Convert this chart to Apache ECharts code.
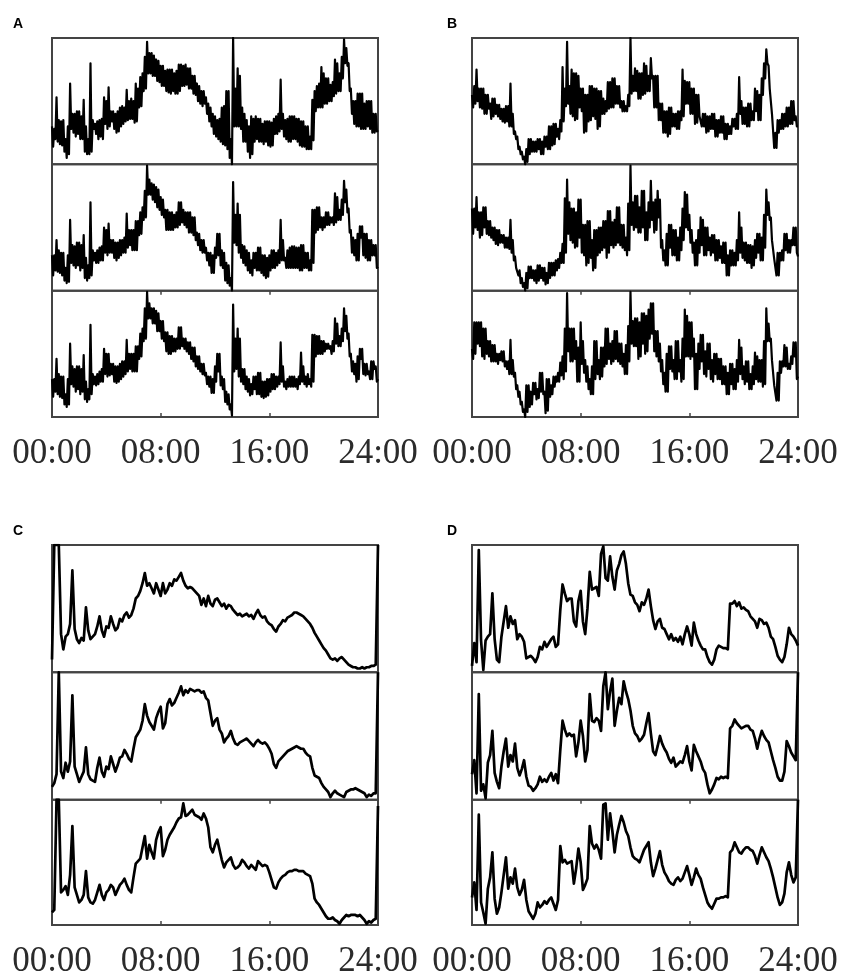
<!DOCTYPE html>
<html><head><meta charset="utf-8">
<script src="https://cdn.jsdelivr.net/npm/echarts@6/dist/echarts.min.js"></script>
<style>html,body{margin:0;padding:0;background:#fff}#c{width:843px;height:979px}</style>
</head><body><div id="c"></div>
<script>
const tickLabels = ['00:00','08:00','16:00','24:00'];
const panelLetters = ['A','B','C','D'];

// Panels A and B: 5-minute samples (289 points, 00:00 .. 24:00), values as % of each subplot's height
const A1=[30,14,28,20,53,18,35,16,34,15,35,10,20,5,30,8,64,28,40,25,
40,22,42,24,42,20,38,20,51,10,30,8,20,8,80,10,35,28,32,24,
34,20,35,22,36,20,53,32,50,28,61,30,42,34,42,28,40,25,42,26,
45,30,46,32,45,34,59,35,50,36,52,36,50,33,64,34,60,45,69,46,
72,58,85,60,97,72,88,72,88,70,86,70,83,66,82,65,78,62,78,62,
74,58,75,57,75,56,75,58,72,56,74,56,79,58,79,62,78,62,79,63,
76,60,76,60,70,56,70,55,64,50,62,48,58,46,58,48,53,40,48,34,
45,30,40,24,38,22,35,20,36,18,45,16,46,15,58,12,58,5,20,0,
100,30,60,30,76,30,70,28,45,18,40,18,35,10,30,5,38,8,36,18,
38,20,36,18,36,18,32,16,34,18,34,15,34,14,33,15,36,24,38,24,
40,26,67,28,40,22,35,20,36,18,38,18,38,20,38,20,36,18,36,15,
34,14,34,14,30,12,30,12,22,12,51,19,58,42,62,45,64,45,77,45,
72,48,68,48,68,50,63,50,65,54,83,56,80,58,72,58,85,68,99,80,
92,78,80,58,60,40,50,32,50,30,56,30,56,28,56,28,48,28,50,30,
50,28,50,25,40,25,40,26,27];
const A2=[28,12,28,16,40,15,32,14,30,12,30,8,18,6,28,7,56,22,36,20,
35,18,38,20,38,16,36,18,44,10,26,8,20,10,70,12,32,24,30,22,
32,22,34,24,35,24,50,30,48,28,53,30,40,30,40,26,38,24,38,26,
40,28,40,30,42,30,61,34,48,36,48,32,48,32,55,32,55,44,62,45,
66,56,79,58,99,76,88,76,85,72,84,70,82,66,80,64,74,60,72,58,
64,48,64,48,62,48,62,48,60,50,62,50,70,52,70,54,64,52,62,50,
62,46,62,46,58,44,58,40,46,36,45,32,40,30,40,30,34,24,30,20,
30,14,28,14,34,26,45,28,45,20,32,18,30,8,22,6,20,4,10,0,
86,38,60,36,69,30,60,26,36,22,35,20,32,16,30,14,24,12,30,18,
30,16,34,16,34,14,28,12,28,10,26,11,28,16,32,18,32,18,30,20,
32,22,56,24,40,24,26,18,32,18,34,18,35,18,35,18,34,18,34,16,
36,16,36,18,30,18,30,16,24,16,64,22,64,46,66,48,66,50,58,48,
58,50,62,52,62,52,58,54,58,52,77,54,74,56,64,56,72,60,87,70,
80,62,65,46,48,30,42,28,40,24,45,24,51,42,51,28,45,26,45,24,
40,24,40,28,36,28,36,18,19];
const A3=[30,16,30,20,46,18,34,16,32,15,32,10,18,8,30,10,58,26,40,24,
38,20,40,22,40,18,38,20,49,14,28,12,22,14,73,18,34,26,32,25,
34,26,36,28,38,28,54,34,50,32,50,33,42,34,42,28,40,27,40,28,
42,30,44,32,44,34,61,36,50,38,50,36,50,36,56,36,56,46,66,48,
70,60,86,62,99,78,90,78,86,74,86,74,84,68,82,68,76,62,76,60,
67,52,67,50,64,50,64,52,62,52,62,54,71,54,71,56,62,54,62,52,
59,50,59,46,55,44,55,40,48,38,48,36,42,34,42,33,35,26,32,24,
32,19,30,19,40,28,50,36,50,25,32,22,30,12,20,10,18,6,10,1,
89,36,62,38,70,32,62,28,38,26,38,22,32,20,30,17,26,18,32,22,
32,18,35,18,35,16,28,15,28,16,30,17,30,20,34,22,34,22,32,24,
32,26,59,28,40,24,28,22,30,24,32,24,32,24,32,24,30,22,32,26,
51,28,40,26,32,24,34,26,30,24,65,28,65,48,64,50,64,50,60,50,
60,52,58,54,58,54,56,50,60,52,78,58,74,56,64,56,70,60,86,68,
80,62,66,48,50,36,44,34,42,28,48,30,54,46,54,34,42,33,42,34,
36,30,44,30,44,38,40,28,30];

const B1=[55,45,62,48,75,50,60,45,60,44,60,40,55,40,55,44,48,36,52,38,
52,40,47,38,47,36,44,34,44,33,46,34,46,30,64,30,40,24,26,20,
22,12,14,8,10,4,6,0,12,2,20,8,20,10,18,10,18,10,20,12,
20,8,18,8,22,14,22,12,30,12,30,15,32,16,32,22,28,20,35,26,
77,34,60,46,97,48,62,40,75,38,72,35,72,36,70,45,60,42,60,25,
55,26,55,34,62,35,62,38,60,36,60,28,58,30,58,40,52,40,50,42,
65,44,65,45,68,45,68,48,62,48,62,45,50,42,50,42,46,42,55,46,
100,56,70,58,76,58,74,52,72,52,72,55,80,56,78,58,70,58,84,68,
70,45,70,45,70,35,48,35,48,25,42,25,42,22,45,24,45,30,40,30,
40,28,42,28,42,35,75,38,66,48,65,48,65,40,60,40,60,32,55,33,
55,38,38,30,40,30,40,25,38,26,38,28,40,28,40,22,35,22,35,25,
38,25,38,20,32,20,32,24,30,24,36,30,36,28,40,28,69,40,50,32,
45,32,45,30,48,30,48,35,42,35,60,42,58,35,55,35,68,55,80,68,
91,80,78,60,60,40,40,13,25,13,35,25,35,28,40,28,40,30,45,30,
45,32,50,32,50,35,38,30,30];
const B2=[65,45,65,50,74,48,62,42,62,44,66,50,66,45,55,44,55,42,50,40,
50,37,48,36,48,38,44,38,44,34,42,34,42,33,56,30,40,24,27,18,
19,12,16,6,10,3,6,0,14,2,19,10,19,10,16,8,16,6,20,8,
20,10,18,8,18,5,14,6,22,10,22,12,22,12,24,16,25,18,30,22,
37,22,73,30,88,45,70,40,65,38,65,34,62,35,72,42,72,30,52,28,
52,20,55,22,55,26,40,16,48,18,48,28,50,30,50,32,55,34,55,26,
63,30,63,36,54,34,56,36,66,38,66,36,52,34,52,32,42,28,69,32,
99,52,70,48,75,50,75,46,66,46,79,50,79,40,62,40,70,50,87,56,
70,46,72,48,79,58,72,34,40,24,32,20,45,20,52,34,52,28,48,28,
48,24,42,24,50,32,65,40,78,50,76,48,60,38,48,30,38,20,40,20,
48,30,58,36,56,28,50,28,50,32,42,28,44,30,44,24,40,24,40,26,
35,22,38,22,38,12,28,12,32,20,32,20,30,20,40,24,62,30,50,26,
38,24,38,22,36,22,36,18,35,20,40,26,45,30,45,24,42,24,60,34,
80,60,70,56,58,40,40,25,25,12,30,12,30,24,32,24,45,32,45,30,
40,30,40,36,50,36,50,30,27];
const B3=[54,46,75,50,75,58,75,56,75,48,70,46,70,50,60,48,60,44,57,44,
57,44,50,42,50,45,52,44,52,40,44,38,44,34,61,34,45,32,35,22,
25,16,20,10,12,4,6,0,25,4,25,8,20,10,27,18,27,14,22,15,
35,20,35,18,20,3,30,5,30,16,25,18,32,24,32,28,35,28,43,33,
48,30,70,36,98,52,70,44,70,44,70,46,60,28,55,28,75,42,60,35,
45,28,40,22,30,18,40,18,60,30,60,34,45,30,55,32,55,40,70,42,
70,46,58,42,60,44,68,46,68,44,58,42,58,40,50,34,57,34,72,44,
99,58,76,56,78,56,78,46,75,48,82,58,82,50,80,52,85,62,90,66,
90,52,68,48,68,44,58,36,45,26,35,20,50,20,56,38,56,36,45,30,
60,30,60,36,45,28,62,30,85,48,80,48,75,46,75,48,62,22,50,22,
58,38,65,44,65,34,52,32,58,38,58,30,45,28,50,34,50,30,46,30,
46,26,40,26,40,18,35,18,42,26,42,22,38,22,45,28,61,34,55,30,
40,26,44,28,44,22,34,22,40,26,51,30,48,28,45,28,45,24,60,26,
86,60,74,60,62,45,45,25,25,13,35,13,44,35,44,40,57,40,55,38,
42,38,48,42,59,48,59,30,32];

// Panels C and D: 10-minute samples (145 points)
const C1=[10,100,100,100,30,18,28,30,38,80,34,26,23,27,25,51,33,26,28,30,36,44,33,28,36,35,44,38,33,35,42,40,45,47,43,45,50,58,60,64,70,78,68,70,66,62,70,65,60,70,62,65,70,68,73,72,75,78,72,68,66,67,66,64,62,60,53,58,52,60,54,52,57,58,55,52,54,50,53,52,49,47,45,46,44,45,46,44,45,42,46,49,45,43,44,40,38,37,34,32,36,38,41,40,43,44,45,47,47,46,45,44,42,40,38,35,31,28,25,22,19,17,14,11,10,11,9,11,12,10,8,6,5,4,4,3,3,4,3,4,4,5,5,6,100];
const C2=[10,13,20,100,22,17,29,22,30,82,26,20,14,18,22,41,20,16,15,14,25,33,22,18,26,24,34,28,22,27,33,34,39,36,32,30,40,49,52,55,62,75,66,61,58,55,64,69,73,56,60,75,79,74,76,80,84,89,82,86,84,87,86,85,86,86,84,85,80,78,68,58,62,64,55,52,45,48,50,54,48,44,43,45,46,47,48,46,44,42,45,47,45,44,45,43,40,36,28,25,30,32,34,36,38,39,40,41,42,41,40,40,37,35,34,25,19,18,17,13,10,8,6,2,5,7,5,4,3,2,6,7,8,8,9,8,7,6,5,2,4,3,5,5,100];
const C3=[10,12,100,100,26,28,31,24,40,79,30,24,18,20,24,43,22,18,17,20,26,32,24,20,26,28,32,30,24,28,32,34,37,32,28,26,38,49,51,53,62,71,53,64,58,53,68,74,78,55,60,68,72,75,78,82,85,86,97,87,88,90,92,88,87,86,84,89,85,78,62,58,64,68,60,52,46,50,52,54,48,45,46,48,52,50,47,45,48,46,44,51,49,47,48,47,42,36,30,29,34,37,39,40,42,43,43,44,44,43,43,43,41,40,39,33,21,18,16,13,10,7,5,5,6,4,3,1,4,6,8,7,8,8,8,7,8,6,4,1,3,2,4,5,95];

const D1=[5,23,8,96,25,2,25,28,30,62,26,10,8,28,40,52,35,44,38,41,26,30,28,24,11,12,13,11,8,12,20,18,24,20,23,26,28,20,22,49,69,62,56,58,58,40,36,56,64,40,30,50,79,65,66,67,60,93,99,74,72,91,75,65,80,85,92,95,85,70,61,60,55,53,48,55,53,58,65,52,41,34,40,42,35,34,30,26,30,25,27,24,28,22,30,36,30,21,39,30,25,21,18,18,12,8,6,10,18,21,20,19,19,18,54,54,56,52,55,50,51,49,48,44,42,40,35,42,41,38,39,35,28,26,20,13,10,8,12,22,35,30,28,25,21];
const D2=[20,31,5,83,7,12,1,29,35,54,21,14,9,26,38,48,26,35,30,44,25,19,24,31,18,11,10,7,9,12,18,14,16,14,18,21,15,20,13,39,62,55,50,52,50,51,34,45,62,50,30,39,83,62,61,64,62,54,89,100,71,85,95,58,70,80,75,93,85,79,70,58,52,50,46,48,51,60,68,52,38,35,42,50,44,40,37,32,29,33,26,28,30,29,35,42,30,23,43,38,34,30,24,21,12,5,8,12,17,16,18,17,18,17,56,58,63,60,58,56,57,58,58,55,54,48,40,48,54,50,47,45,38,31,25,18,15,15,22,46,42,37,34,31,100];
const D3=[22,34,12,88,18,10,1,29,38,58,21,9,14,26,40,54,29,38,33,45,30,24,28,36,20,11,8,5,9,18,14,16,19,17,20,22,17,12,20,63,50,52,49,50,51,33,45,61,50,28,32,37,79,65,61,64,60,53,96,97,68,89,75,58,72,80,87,82,75,71,62,55,53,52,50,55,60,63,66,50,39,45,52,59,48,42,39,35,33,32,36,38,35,37,42,47,40,32,38,45,40,37,30,24,18,15,13,17,21,21,22,22,23,22,58,60,66,62,58,57,60,62,62,60,59,55,49,56,62,58,54,51,45,38,30,22,16,18,25,42,50,40,34,38,100];

const panelSeries = [[A1,A2,A3],[B1,B2,B3],[C1,C2,C3],[D1,D2,D3]];
const layout = [
  {left:52, top:38, h:126.33, lx:13, ly:17},
  {left:472, top:38, h:126.33, lx:447, ly:17},
  {left:52, top:545, h:127.33, lx:13, ly:524},
  {left:472, top:545, h:127.33, lx:447, ly:524}
];
const W = 326;
const grid=[], xAxis=[], yAxis=[], series=[], graphic=[];
panelSeries.forEach((subs, p) => {
  const L = layout[p];
  graphic.push({type:'text', left:L.lx, top:L.ly, style:{text:panelLetters[p], font:'bold 14px "Liberation Sans", Arial, sans-serif', fill:'#000'}});
  subs.forEach((vals, s) => {
    const gi = grid.length;
    const isBottom = s === 2;
    grid.push({left:L.left, top:L.top + s*L.h, width:W, height:L.h, show:true, borderColor:'#444', borderWidth:2, backgroundColor:'transparent'});
    xAxis.push({gridIndex:gi, type:'value', min:0, max:24, interval:8, position:'bottom',
      axisLine:{show:false}, splitLine:{show:false},
      axisTick:{show:isBottom, inside:true, length:4, lineStyle:{color:'#444', width:1.5}},
      axisLabel:{show:isBottom, margin:19, fontFamily:'"Liberation Serif", "Times New Roman", serif', fontSize:35, color:'#2b2b2b',
        formatter: v => tickLabels[Math.round(v/8)]}});
    xAxis.push({gridIndex:gi, type:'value', min:0, max:24, interval:8, position:'top',
      axisLine:{show:false}, splitLine:{show:false},
      axisTick:{show:isBottom, inside:true, length:4, lineStyle:{color:'#444', width:1.5}},
      axisLabel:{show:false}});
    yAxis.push({gridIndex:gi, type:'value', min:0, max:100, show:false});
    series.push({type:'line', xAxisIndex:xAxis.length-2, yAxisIndex:gi,
      data: vals.map((v,i)=>[i*24/(vals.length-1), v]),
      showSymbol:false, clip:true, animation:false,
      lineStyle:{color:'#000', width: p<2 ? 2.2 : 2.7, join:'round'}});
  });
});
const chart = echarts.init(document.getElementById('c'));
chart.setOption({animation:false, grid, xAxis, yAxis, series, graphic});
</script>
</body></html>
